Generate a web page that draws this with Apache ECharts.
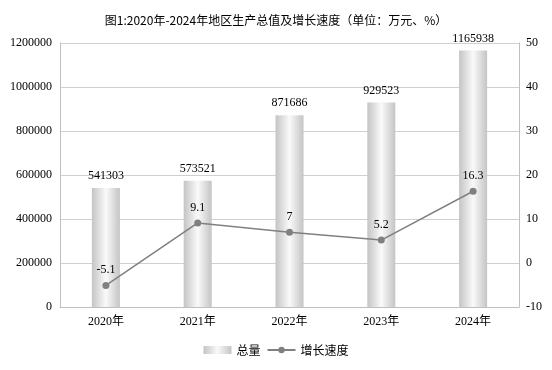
<!DOCTYPE html>
<html><head><meta charset="utf-8">
<script src="https://cdn.jsdelivr.net/npm/echarts@6/dist/echarts.min.js"></script>
<style>html,body{margin:0;padding:0;background:#fff}#c{width:552px;height:370px}</style>
</head><body><div id="c"></div>
<script>
const categories = ['2020年','2021年','2022年','2023年','2024年'];
const totals = [541303, 573521, 871686, 929523, 1165938];
const growth = [-5.1, 9.1, 7, 5.2, 16.3];
const title = '图1:2020年-2024年地区生产总值及增长速度（单位：万元、%）';
const serif = '"Liberation Serif","Noto Sans CJK SC",serif';
const cjk = '"Noto Sans CJK SC","Liberation Serif",sans-serif';

const barColor = new echarts.graphic.LinearGradient(0,0,1,0,[
  {offset:0,color:'#c4c4c4'},{offset:0.5,color:'#fafafa'},{offset:1,color:'#c4c4c4'}
]);
const chart = echarts.init(document.getElementById('c'));
chart.setOption({
  animation:false,
  title:{text:title,left:'center',top:9,textStyle:{fontFamily:cjk,fontSize:12,fontWeight:'normal',color:'#000'}},
  grid:{left:60,right:33,top:43,bottom:63},
  legend:{bottom:9,left:'center',itemGap:6,itemWidth:28,itemHeight:8,
    textStyle:{fontFamily:cjk,fontSize:12,color:'#000'},
    data:[{name:'总量',icon:'rect'},{name:'增长速度'}]},
  xAxis:{type:'category',data:categories,
    axisLine:{lineStyle:{color:'#bfbfbf'}},axisTick:{show:false},
    axisLabel:{fontFamily:serif,fontSize:12,color:'#000',margin:9}},
  yAxis:[
    {type:'value',min:0,max:1200000,interval:200000,
     axisLine:{show:true,lineStyle:{color:'#bfbfbf'}},axisTick:{show:false},
     splitLine:{lineStyle:{color:'#d0d0d0'}},
     axisLabel:{fontFamily:serif,fontSize:12,color:'#000',margin:8,formatter:v=>String(v)}},
    {type:'value',min:-10,max:50,interval:10,
     axisLine:{show:true,lineStyle:{color:'#bfbfbf'}},axisTick:{show:false},
     splitLine:{show:false},
     axisLabel:{fontFamily:serif,fontSize:12,color:'#000',margin:7,formatter:v=>String(v)}}
  ],
  series:[
    {name:'总量',type:'bar',data:totals,barWidth:28,
     itemStyle:{color:barColor},
     label:{show:true,position:'top',distance:6,fontFamily:serif,fontSize:12,color:'#000'}},
    {name:'增长速度',type:'line',yAxisIndex:1,data:growth,
     symbol:'circle',symbolSize:7,
     lineStyle:{color:'#808080',width:1.5},itemStyle:{color:'#808080'},
     label:{show:true,position:'top',distance:6,fontFamily:serif,fontSize:12,color:'#000'}}
  ]
});
</script></body></html>
